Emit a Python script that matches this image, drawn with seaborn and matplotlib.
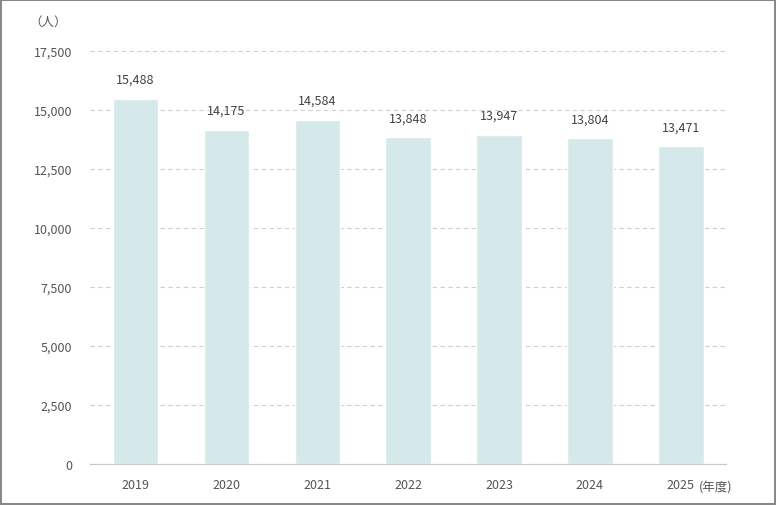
import pandas as pd
import seaborn as sns
import matplotlib.pyplot as plt

# 年度別の人数
years = ["2019", "2020", "2021", "2022", "2023", "2024", "2025"]
counts = [15488, 14175, 14584, 13848, 13947, 13804, 13471]
yticks = [0, 2500, 5000, 7500, 10000, 12500, 15000, 17500]

sns.set_style("white")
plt.rcParams['font.family'] = ['Noto Sans CJK JP', 'DejaVu Sans']

df = pd.DataFrame({"year": years, "count": counts})

fig = plt.figure(figsize=(7.76, 5.06), dpi=100)
fig.patch.set_edgecolor("#888888")
fig.patch.set_linewidth(1.5)
ax = fig.add_axes([0.116, 0.081, 0.82, 0.816])

sns.barplot(data=df, x="year", y="count", color="#d5e8ea", width=0.5,
            saturation=1, ax=ax)

ax.set_ylim(0, 17500)
ax.set_xlim(-0.5, len(years) - 0.5)
ax.set_yticks(yticks)
ax.set_yticklabels([f"{v:,}" for v in yticks])
ax.yaxis.grid(True, linestyle=(0, (4, 3)), color="#d0d0d0", linewidth=0.8)
ax.set_axisbelow(True)
for s in ["top", "right", "left"]:
    ax.spines[s].set_visible(False)
ax.spines["bottom"].set_color("#c8c8c8")
ax.tick_params(axis="both", length=0, labelsize=9, colors="#555555")
ax.tick_params(axis="y", pad=13)
ax.tick_params(axis="x", pad=10)
ax.set_xlabel("")
ax.set_ylabel("")

for i, v in enumerate(counts):
    ax.text(i, v + 550, f"{v:,}", ha="center", va="bottom", fontsize=9, color="#444444")

fig.text(0.062, 0.955, "（人）", ha="center", va="center", fontsize=9, color="#555555")
ax.text(6.2, -700, "(年度)", ha="left", va="top", fontsize=9, color="#555555")

fig.savefig("out.png", dpi=100)
